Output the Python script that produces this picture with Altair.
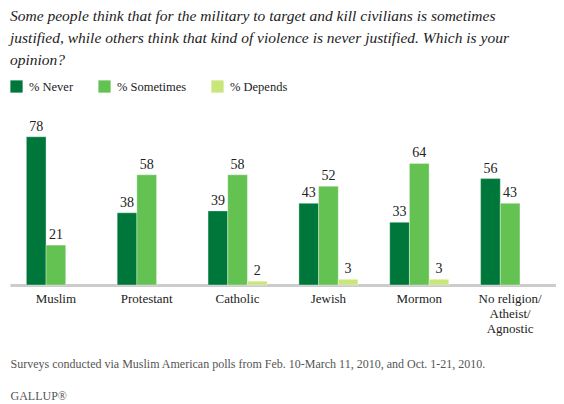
import altair as alt
import pandas as pd

categories = ["Muslim", "Protestant", "Catholic", "Jewish", "Mormon", "No religion/Atheist/Agnostic"]
cat_lines = [["Muslim"], ["Protestant"], ["Catholic"], ["Jewish"], ["Mormon"], ["No religion/", "Atheist/", "Agnostic"]]
series = ["% Never", "% Sometimes", "% Depends"]
never = [78, 38, 39, 43, 33, 56]
sometimes = [21, 58, 58, 52, 64, 43]
depends = [None, None, 2, 3, 3, None]
colors = ["#00773a", "#63c251", "#c8e67a"]

title_lines = [
    "Some people think that for the military to target and kill civilians is sometimes",
    "justified, while others think that kind of violence is never justified. Which is your",
    "opinion?",
]
footnote = "Surveys conducted via Muslim American polls from Feb. 10-March 11, 2010, and Oct. 1-21, 2010."
brand = "GALLUP\u00ae"

rows = []
for i, c in enumerate(categories):
    for s, vals in zip(series, [never, sometimes, depends]):
        if vals[i] is not None:
            rows.append({"category": c, "series": s, "value": vals[i]})
df = pd.DataFrame(rows)

label_expr = " : ".join(
    [f"datum.label == '{c}' ? {l!r}" for c, l in zip(categories, cat_lines)] + ["datum.label"]
)

SERIF = "'Liberation Serif', 'Times New Roman', Times, serif"

x_enc = alt.X(
    "category:N",
    sort=categories,
    scale=alt.Scale(paddingInner=0.35, paddingOuter=0.18),
    axis=alt.Axis(
        title=[footnote, brand],
        titleFont=SERIF,
        titleFontSize=12,
        titleFontWeight="normal",
        titleColor="#555555",
        titleAnchor="start",
        titleAlign="left",
        titlePadding=23,
        titleLineHeight=32,
        labelExpr=label_expr,
        labelFont=SERIF,
        labelFontSize=13,
        labelColor="#222222",
        labelAngle=0,
        labelPadding=7,
        labelLineHeight=15,
        ticks=False,
        domainColor="#cccccc",
        domainWidth=3,
    ),
)
xoff = alt.XOffset("series:N", sort=series, scale=alt.Scale(domain=series, paddingInner=0, paddingOuter=0))
y_enc = alt.Y("value:Q", scale=alt.Scale(domain=[0, 100]), axis=None)

bars = alt.Chart(df).mark_bar(stroke="#ffffff", strokeOpacity=0.35, strokeWidth=1).encode(
    x=x_enc,
    xOffset=xoff,
    y=y_enc,
    color=alt.Color(
        "series:N",
        sort=series,
        scale=alt.Scale(domain=series, range=colors),
        legend=alt.Legend(
            title=None,
            orient="top",
            direction="horizontal",
            symbolType="square",
            symbolSize=150,
            symbolStrokeWidth=0,
            symbolOpacity=1,
            labelFont=SERIF,
            labelFontSize=12.5,
            labelColor="#222222",
            labelOffset=6,
            columnPadding=24,
            offset=2,
        ),
    ),
)

labels = alt.Chart(df).mark_text(
    baseline="bottom", dy=-3, font=SERIF, fontSize=14, color="#222222"
).encode(x=x_enc, xOffset=xoff, y=y_enc, text="value:Q")

chart = (
    alt.layer(bars, labels)
    .properties(
        width=546,
        height=190,
        padding={"left": 2, "top": 0, "right": 0, "bottom": 0},
        title=alt.TitleParams(
            text=title_lines,
            anchor="start",
            font=SERIF,
            fontStyle="italic",
            fontWeight="normal",
            fontSize=15.5,
            lineHeight=22,
            color="#222222",
            offset=12,
        ),
    )
    .configure_view(stroke=None)
)

chart.save("out.html", embed_options={"renderer": "svg", "actions": False})
